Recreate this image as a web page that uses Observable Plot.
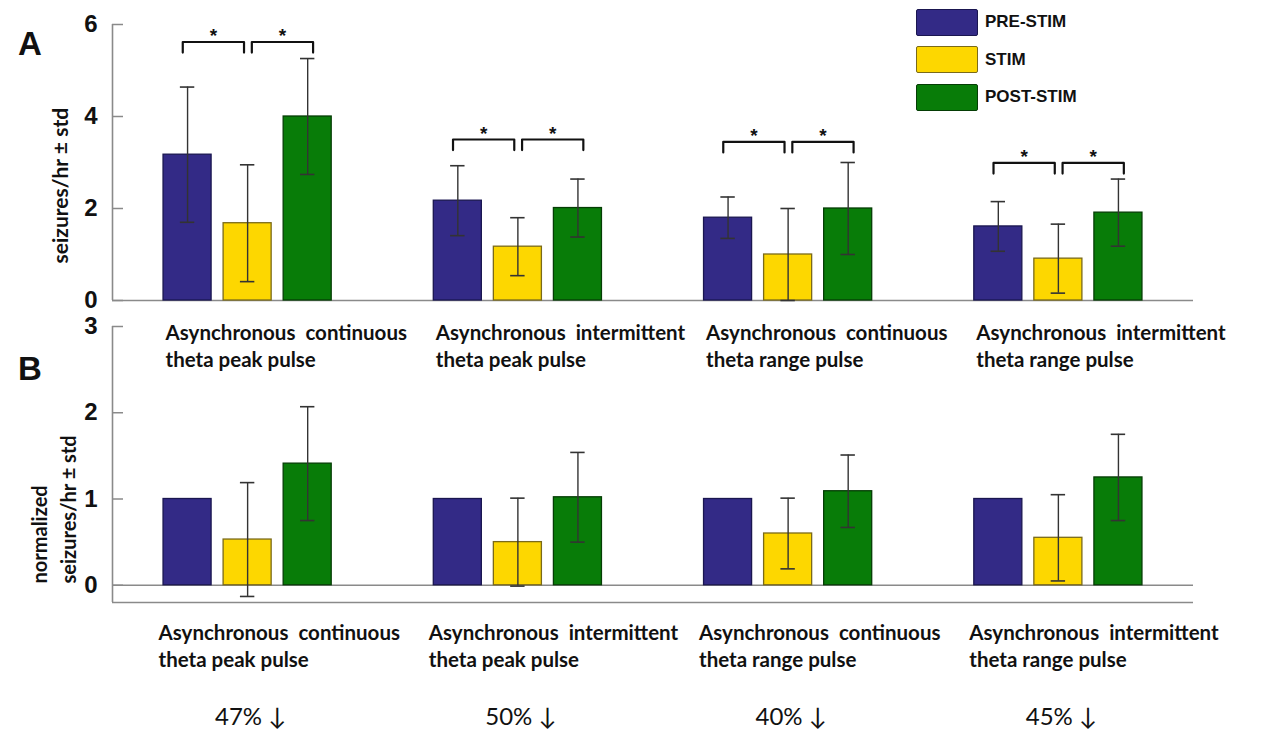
<!DOCTYPE html>
<html>
<head>
<meta charset="utf-8">
<script src="https://cdn.jsdelivr.net/npm/d3@7"></script>
<script src="https://cdn.jsdelivr.net/npm/@observablehq/plot@0.6"></script>
<style>
  body { margin: 0; background: #fff; }
  #wrap { position: relative; width: 1267px; height: 730px; overflow: hidden; background: #fff; }
  #wrap svg { position: absolute; left: 0; overflow: visible; background: none; }
  .panel { position: absolute; font-family: "Liberation Sans", Arial, sans-serif; font-weight: bold; font-size: 33px; line-height: 1; color: #111; }
  #legend { position: absolute; left: 916px; top: 8px; font-family: "Liberation Sans", Arial, sans-serif; font-weight: bold; font-size: 17px; color: #111; }
  #legend .item { display: flex; align-items: center; height: 28px; margin-bottom: 9.5px; }
  #legend .sw { width: 60px; height: 25px; border: 1.5px solid #333; border-radius: 2px; margin-right: 7px; }
</style>
</head>
<body>
<div id="wrap">
  <div class="panel" style="left:18px;top:27px">A</div>
  <div class="panel" style="left:18px;top:352px">B</div>
  <div id="legend"></div>
</div>
<script>
// ---------- data ----------
const groups = [
  "Asynchronous  continuous\ntheta peak pulse",
  "Asynchronous  intermittent\ntheta peak pulse",
  "Asynchronous  continuous\ntheta range pulse",
  "Asynchronous  intermittent\ntheta range pulse"
];
const conditions = ["PRE-STIM", "STIM", "POST-STIM"];
const colors = ["#332a86", "#fdd700", "#087c08"];
const outlines = ["#1a1650", "#7a6a1a", "#053d05"];

// Panel A: seizures/hr (mean, std) per group x condition
const rateMean = [[3.17, 1.68, 4.00], [2.17, 1.17, 2.01], [1.80, 1.00, 2.00], [1.61, 0.91, 1.91]];
const rateStd  = [[1.47, 1.27, 1.26], [0.76, 0.63, 0.63], [0.45, 1.00, 1.00], [0.54, 0.75, 0.73]];
// Panel B: normalized seizures/hr
const normMean = [[1, 0.53, 1.41], [1, 0.50, 1.02], [1, 0.60, 1.09], [1, 0.55, 1.25]];
const normStd  = [[0, 0.66, 0.66], [0, 0.51, 0.52], [0, 0.41, 0.42], [0, 0.50, 0.50]];
// significance bracket heights (panel A units)
const sigY = [5.62, 3.50, 3.45, 2.99];
const reductions = ["47% \u2193", "50% \u2193", "40% \u2193", "45% \u2193"];
const ticksA = [0, 2, 4, 6];
const ticksB = [0, 1, 2, 3];
const yMinB = -0.2;

// ---------- layout helpers ----------
const groupStep = 4.5, barHalf = 0.4, capHalf = 0.12, leg = 0.23;
const gCenter = gi => gi * groupStep + groupStep / 2;
const labelFont = "Lato, 'Open Sans', sans-serif";

function rows(means, stds) {
  return groups.flatMap((g, gi) => conditions.map((c, ci) => ({
    g, gi, c, ci, x: gCenter(gi) + (ci - 1), mean: means[gi][ci], std: stds[gi][ci]
  })));
}
const rowsA = rows(rateMean, rateStd);
const rowsB = rows(normMean, normStd);

function errMarks(data, floor) {
  const d = data.filter(r => r.std > 0);
  const lo = r => floor == null ? r.mean - r.std : Math.max(floor, r.mean - r.std);
  const caps = d.flatMap(r => [{x: r.x, y: r.mean + r.std}, {x: r.x, y: lo(r)}]);
  return [
    Plot.ruleX(d, {x: "x", y1: lo, y2: r => r.mean + r.std, stroke: "#333", strokeWidth: 1.4}),
    Plot.ruleY(caps, {y: "y", x1: r => r.x - capHalf, x2: r => r.x + capHalf, stroke: "#333", strokeWidth: 1.6})
  ];
}
function barMark(data) {
  return Plot.rectY(data, {
    x1: r => r.x - barHalf, x2: r => r.x + barHalf, y1: 0, y2: "mean",
    fill: "c", stroke: r => outlines[r.ci], strokeWidth: 1.3
  });
}
const groupData = groups.map((g, gi) => ({g, gi, x: gCenter(gi) - 1 - barHalf, xc: gCenter(gi), r: reductions[gi]}));

// brackets
const bracketPts = sigY.flatMap((y, gi) => {
  const c = gCenter(gi);
  const spans = [[c - 1 - 0.08, c - 0.06], [c + 0.07, c + 1 + 0.09]];
  return spans.flatMap(([a, b], k) => [
    {id: gi * 2 + k, x: a, y: y - leg}, {id: gi * 2 + k, x: a, y}, {id: gi * 2 + k, x: b, y}, {id: gi * 2 + k, x: b, y: y - leg}
  ]);
});
const stars = sigY.flatMap((y, gi) => {
  const c = gCenter(gi);
  return [{x: c - 0.5 - 0.07, y}, {x: c + 0.5 + 0.08, y}];
});

const common = {
  width: 1267, marginLeft: 112, marginRight: 74,
  x: {domain: [0, 18], axis: null},
  color: {domain: conditions, range: colors},
  style: {background: "none", overflow: "visible", color: "#111"}
};

// ---------- Panel A ----------
const plotA = Plot.plot({
  ...common,
  height: 380, marginTop: 24, marginBottom: 80,
  y: {domain: [0, 6]},
  marks: [
    Plot.ruleY([0], {stroke: "#8a8a8a", strokeWidth: 1.6}),
    Plot.ruleX([0], {y1: ticksA[0], y2: ticksA[ticksA.length - 1], stroke: "#8a8a8a", strokeWidth: 1.6}),
    Plot.axisY({ticks: ticksA, tickSize: -11, tickPadding: 26, stroke: "#8a8a8a", strokeWidth: 1.5,
      fontSize: 24, fontWeight: "bold", fontFamily: "'Liberation Sans', Arial, sans-serif", label: null, tickFormat: d => d}),
    barMark(rowsA),
    ...errMarks(rowsA, 0),
    Plot.line(bracketPts, {x: "x", y: "y", z: "id", stroke: "#111", strokeWidth: 2.2, curve: "linear"}),
    Plot.text(stars, {x: "x", y: "y", text: () => "*", lineAnchor: "bottom", fontSize: 19, fontWeight: "bold",
      fontFamily: "'Liberation Sans', Arial, sans-serif", fill: "#111"}),
    Plot.text(groupData, {x: "x", y: 0, text: "g", textAnchor: "start", lineAnchor: "top", dy: 21, dx: 2,
      fontSize: 20.5, fontWeight: 700, fontFamily: labelFont, lineHeight: 1.3, fill: "#111"}),
    Plot.text(["seizures/hr \u00b1 std"], {frameAnchor: "left", text: d => d, rotate: -90, textAnchor: "start",
      lineAnchor: "middle", dx: -51, dy: 101, fontSize: 21, fontWeight: "bold", fontFamily: labelFont, fill: "#111"})
  ]
});
plotA.style.top = "0px";

// ---------- Panel B ----------
const plotB = Plot.plot({
  ...common,
  height: 420, marginTop: 16, marginBottom: 128,
  y: {domain: [yMinB, 3]},
  marks: [
    Plot.ruleY([0], {stroke: "#8a8a8a", strokeWidth: 1.6}),
    Plot.ruleY([yMinB], {stroke: "#8a8a8a", strokeWidth: 1.6}),
    Plot.ruleX([0], {y1: yMinB, y2: ticksB[ticksB.length - 1], stroke: "#8a8a8a", strokeWidth: 1.6}),
    Plot.axisY({ticks: ticksB, tickSize: -11, tickPadding: 26, stroke: "#8a8a8a", strokeWidth: 1.5,
      fontSize: 24, fontWeight: "bold", fontFamily: "'Liberation Sans', Arial, sans-serif", label: null, tickFormat: d => d}),
    barMark(rowsB),
    ...errMarks(rowsB, null),
    Plot.text(groupData, {x: "x", y: yMinB, text: "g", textAnchor: "start", lineAnchor: "top", dy: 19, dx: -5,
      fontSize: 20.5, fontWeight: 700, fontFamily: labelFont, lineHeight: 1.3, fill: "#111"}),
    Plot.text(groupData, {x: "xc", y: yMinB, text: "r", textAnchor: "middle", lineAnchor: "bottom", dy: 122, dx: 3,
      fontSize: 24, fontWeight: 400, fontFamily: labelFont, fill: "#111"}),
    Plot.text(["normalized\nseizures/hr \u00b1 std"], {frameAnchor: "left", text: d => d, rotate: -90, textAnchor: "start",
      lineAnchor: "middle", dx: -60, dy: 119, fontSize: 20, fontWeight: "bold", fontFamily: labelFont, lineHeight: 1.45, fill: "#111"})
  ]
});
plotB.style.top = "310px";

const wrap = document.getElementById("wrap");
wrap.appendChild(plotA);
wrap.appendChild(plotB);

// legend
const legend = document.getElementById("legend");
conditions.forEach((c, i) => {
  const item = document.createElement("div");
  item.className = "item";
  item.innerHTML = `<div class="sw" style="background:${colors[i]};border-color:${outlines[i]}"></div><span>${c}</span>`;
  legend.appendChild(item);
});
</script>
</body>
</html>
